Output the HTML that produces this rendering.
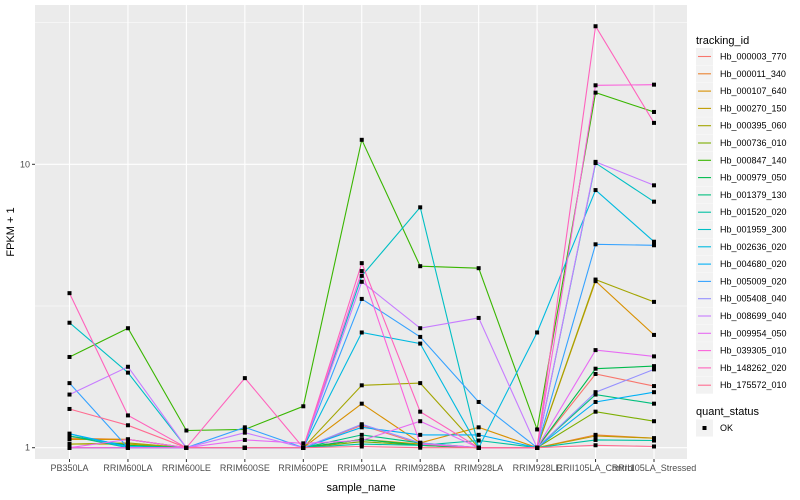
<!DOCTYPE html>
<html><head><meta charset="utf-8">
<style>
html,body{margin:0;padding:0;background:#fff;}
svg{display:block;font-family:"Liberation Sans",sans-serif;}
</style></head>
<body>
<svg id="chart" width="800" height="500" viewBox="0 0 800 500">
<rect x="0" y="0" width="800" height="500" fill="#fff"/>
<g id="panel"></g>
<g id="series"></g>
<g id="axes"></g>
<text x="14" y="232" transform="rotate(-90 14 232)" text-anchor="middle" font-size="11" fill="#000">FPKM + 1</text>
<text x="361" y="491" text-anchor="middle" font-size="11" fill="#000">sample_name</text>
<g id="legend"></g>
</svg>
<script>
const categories = ["PB350LA","RRIM600LA","RRIM600LE","RRIM600SE","RRIM600PE","RRIM901LA","RRIM928BA","RRIM928LA","RRIM928LE","RRII105LA_Control","RRII105LA_Stressed"];
const seriesNames = ["Hb_000003_770","Hb_000011_340","Hb_000107_640","Hb_000270_150","Hb_000395_060","Hb_000736_010","Hb_000847_140","Hb_000979_050","Hb_001379_130","Hb_001520_020","Hb_001959_300","Hb_002636_020","Hb_004680_020","Hb_005009_020","Hb_005408_040","Hb_008699_040","Hb_009954_050","Hb_039305_010","Hb_148262_020","Hb_175572_010"];
const seriesColors = ["#F8766D","#EA8331","#D89000","#C09B00","#A3A500","#7CAE00","#39B600","#00BB4E","#00BF7D","#00C1A3","#00BFC4","#00BAE0","#00B0F6","#35A2FF","#9590FF","#C77CFF","#E76BF3","#FA62DB","#FF62BC","#FF6C91"];
const s0  = [1,1,1,1,1,1.2,1.03,1,1,1.82,1.65];
const s1  = [1.08,1.07,1,1,1,1.07,1.02,1,1,1.11,1.08];
const s2  = [1.07,1.07,1,1,1,1.43,1.04,1.18,1,3.87,2.5];
const s3  = [1.03,1.03,1,1,1,1.07,1.03,1,1,1.10,1.08];
const s4  = [1.03,1.04,1,1,1,1.66,1.69,1,1,3.92,3.27];
const s5  = [1,1,1,1,1,1.05,1.02,1,1,1.34,1.24];
const s6  = [2.09,2.64,1.15,1.16,1.40,12.2,4.37,4.30,1.16,17.9,15.3];
const s7  = [1.1,1.02,1,1,1,1.07,1.02,1,1,1.90,1.94];
const s8  = [1.1,1,1,1,1,1.11,1.04,1,1,1.54,1.43];
const s9  = [1,1,1,1,1,1.03,1.02,1.06,1,1.065,1.06];
const s10 = [2.76,1.84,1,1,1,4.04,7.05,1,1,10.1,7.38];
const s11 = [1.12,1,1,1,1,2.55,2.33,1,2.55,8.11,5.33];
const s12 = [1.12,1.01,1,1,1,1.18,1.11,1.11,1,1.45,1.57];
const s13 = [1.69,1,1,1.18,1,3.35,2.46,1.45,1,5.22,5.18];
const s14 = [1,1,1,1,1,1.21,1.04,1,1,1.57,1.89];
const s15 = [1.54,1.93,1,1.13,1,3.85,2.64,2.87,1,10.2,8.43];
const s16 = [1,1.07,1,1.065,1.036,1.06,1.24,1,1,2.21,2.1];
const s17 = [1,1,1,1,1,4.2,1.03,1,1,19.0,19.1];
const s18 = [3.51,1.30,1,1.76,1,4.48,1.34,1,1,30.7,14.0];
const s19 = [1.37,1.20,1,1,1,1.01,1,1,1,1.02,1.01];
const seriesValues = [s0,s1,s2,s3,s4,s5,s6,s7,s8,s9,s10,s11,s12,s13,s14,s15,s16,s17,s18,s19];
const yMajorTicks = [1,10];
const yMajorLabels = ["1","10"];
const yMinorTicks = [3.1623,31.623];

const NS = "http://www.w3.org/2000/svg";
const P = {l:35, r:687, t:5, b:459};
function xScale(i){ return 69.5 + 58.45*i; }
function yScale(v){ return 447.7 - 283.4*Math.log10(v); }
function mk(tag, attrs, parent){
  const e = document.createElementNS(NS, tag);
  for (const k in attrs) e.setAttribute(k, attrs[k]);
  parent.appendChild(e); return e;
}
const panel = document.getElementById('panel');
const bg = mk('rect',{x:P.l,y:P.t,width:P.r-P.l,height:P.b-P.t,fill:'#EBEBEB'},panel);


yMinorTicks.forEach(v=>{
  const g = mk('line',{x1:P.l,x2:P.r,y1:yScale(v),y2:yScale(v),stroke:'#fff','stroke-width':0.5},panel);
  
  
});
yMajorTicks.forEach(v=>{
  const g = mk('line',{x1:P.l,x2:P.r,y1:yScale(v),y2:yScale(v),stroke:'#fff','stroke-width':1.1},panel);
  
  
});
categories.forEach((c,i)=>{
  const g = mk('line',{x1:xScale(i),x2:xScale(i),y1:P.t,y2:P.b,stroke:'#fff','stroke-width':1.1},panel);
  
  
});
const sg = document.getElementById('series');
seriesValues.forEach((vals,si)=>{
  const pts = vals.map((v,i)=>xScale(i).toFixed(1)+','+yScale(v).toFixed(1)).join(' ');
  const pl = mk('polyline',{points:pts,fill:'none',stroke:seriesColors[si],'stroke-width':1.1},sg);
  
  
});
seriesValues.forEach((vals,si)=>{
  vals.forEach((v,i)=>{
    const r = mk('rect',{x:xScale(i)-2,y:yScale(v)-2,width:4,height:4,fill:'#000'},sg);
    
    
  });
});
const ax = document.getElementById('axes');
yMajorTicks.forEach((v,k)=>{
  const t = mk('line',{x1:P.l-3,x2:P.l,y1:yScale(v),y2:yScale(v),stroke:'#333','stroke-width':1},ax);
  
  
  const lb = mk('text',{x:P.l-5,y:yScale(v)+3,'text-anchor':'end','font-size':9,fill:'#4D4D4D'},ax);
  lb.textContent = yMajorLabels[k];
  
  
});
categories.forEach((c,i)=>{
  const t = mk('line',{x1:xScale(i),x2:xScale(i),y1:P.b,y2:P.b+3,stroke:'#333','stroke-width':1},ax);
  
  
  const lb = mk('text',{x:xScale(i),y:P.b+12,'text-anchor':'middle','font-size':9,fill:'#4D4D4D'},ax);
  lb.textContent = c;
  
  
});
const lg = document.getElementById('legend');
const lt = mk('text',{x:696,y:44,'font-size':11,fill:'#000'},lg);
lt.textContent = 'tracking_id';


seriesNames.forEach((n,i)=>{
  const cy = 56.5 + 17.3*i;
  const k = mk('rect',{x:696,y:cy-8.5,width:17,height:17,fill:'#F2F2F2'},lg);
  
  
  const ln = mk('line',{x1:698,x2:711,y1:cy,y2:cy,stroke:seriesColors[i],'stroke-width':1.1},lg);
  
  
  const tx = mk('text',{x:720,y:cy+3,'font-size':9,fill:'#000'},lg);
  tx.textContent = n;
  
  
});
const qt = mk('text',{x:696,y:415,'font-size':11,fill:'#000'},lg);
qt.textContent = 'quant_status';


const qk = mk('rect',{x:696,y:419.5,width:17,height:17,fill:'#F2F2F2'},lg);


const qp = mk('rect',{x:702.5,y:426,width:4,height:4,fill:'#000'},lg);


const qx = mk('text',{x:720,y:431,'font-size':9,fill:'#000'},lg);
qx.textContent = 'OK';


</script>
</body></html>
